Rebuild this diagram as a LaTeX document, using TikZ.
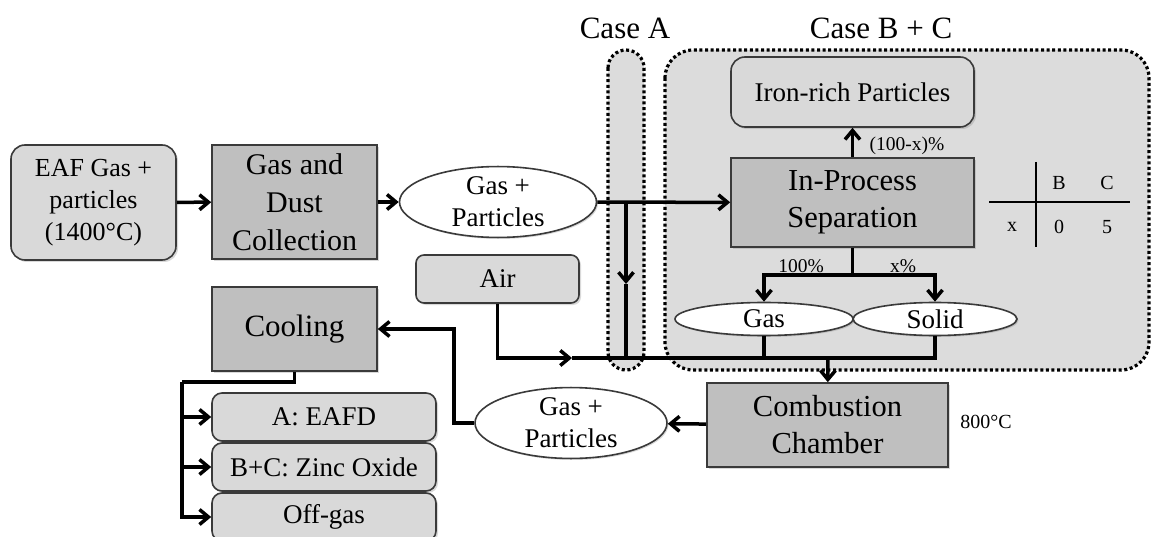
\documentclass[tikz,border=0pt]{standalone}
\usepackage{fontspec}
\setmainfont{Liberation Serif}
\usetikzlibrary{arrows.meta,shapes.geometric,shadows}
\definecolor{boxlight}{HTML}{D9D9D9}
\definecolor{boxdark}{HTML}{BFBFBF}
\definecolor{caseback}{HTML}{DCDCDC}
\definecolor{boxline}{HTML}{3A3A3A}
\begin{document}
\begin{tikzpicture}[x=1pt, y=-1pt, line width=3.5pt,
    lightbox/.style={draw=boxline, line width=1.6pt, fill=boxlight, rounded corners=14pt, align=center,
      drop shadow={shadow xshift=2pt, shadow yshift=-2pt, opacity=0.3}},
    darkbox/.style={draw=boxline, line width=1.6pt, fill=boxdark, align=center,
      drop shadow={shadow xshift=2pt, shadow yshift=-2pt, opacity=0.3}},
    flow/.style={ellipse, draw=boxline, line width=1.6pt, fill=white, inner sep=0pt, align=center,
      drop shadow={shadow xshift=1.5pt, shadow yshift=-1.5pt, opacity=0.3}},
    casebox/.style={fill=caseback, line width=3.2pt, dash pattern=on 3pt off 2.6pt},
    pipe/.style={line width=3.5pt},
    tip/.style={-{Straight Barb[length=9pt, width=15pt]}},
    big/.style={font=\fontsize{30.5}{37}\selectfont},
    mid/.style={font=\fontsize{27}{32}\selectfont},
    small/.style={font=\fontsize{19.5}{22}\selectfont}]
  \useasboundingbox (0,0) rectangle (1153,537);
  % case regions
  \draw[casebox, rounded corners=28pt] (665,50) rectangle (1149,370);
  \draw[casebox, rounded corners=18pt] (608,50) rectangle (644,370);
  \node[font=\fontsize{31}{36}\selectfont] (caseA) at (625,28) {Case A};
  \node[font=\fontsize{31}{36}\selectfont] (caseBC) at (881,28) {Case B + C};

  \node[lightbox, minimum width=165pt, minimum height=115pt, font=\fontsize{26}{32}\selectfont] (eaf) at (93.5,202.5) {EAF Gas +\\particles\\(1400°C)};
  \node[darkbox, minimum width=165pt, minimum height=114pt, font=\fontsize{30}{38}\selectfont] (gdc) at (294.5,202) {Gas and\\Dust\\Collection};
  \node[flow, minimum width=197pt, minimum height=65pt, font=\fontsize{27}{32}\selectfont] (gp1) at (498,202) {Gas +\\Particles};
  \node[lightbox, rounded corners=8pt, minimum width=163pt, minimum height=48pt, mid] (air) at (497.5,279) {Air};
  \node[darkbox, minimum width=165pt, minimum height=84pt, font=\fontsize{31}{36}\selectfont] (cool) at (294.5,329) {Cooling};
  \node[lightbox, rounded corners=10pt, minimum width=224pt, minimum height=48pt, mid] (eafd) at (324,417) {A: EAFD};
  \node[lightbox, rounded corners=10pt, minimum width=224pt, minimum height=48pt, mid] (zno) at (324,467) {B+C: Zinc Oxide};
  \node[lightbox, rounded corners=10pt, minimum width=224pt, minimum height=48pt, mid] (offgas) at (324,517) {Off-gas};
  \node[lightbox, minimum width=243pt, minimum height=70pt, mid] (iron) at (852.5,92) {Iron-rich Particles};
  \node[darkbox, minimum width=243pt, minimum height=89pt, big] (sep) at (852.5,202.5) {In-Process\\Separation};
  \node[flow, minimum width=178pt, minimum height=33pt, mid] (gas) at (764,319) {Gas};
  \node[flow, minimum width=164pt, minimum height=33pt, mid] (solid) at (935,319) {Solid};
  \node[darkbox, minimum width=241pt, minimum height=84pt, big] (comb) at (827.5,425) {Combustion\\Chamber};
  \node[flow, minimum width=192pt, minimum height=64pt, font=\fontsize{27}{32}\selectfont] (gp2) at (571,423) {Gas +\\Particles};
  \node[font=\fontsize{20}{24}\selectfont] (temp) at (986,422) {800°C};

  % x table
  \draw[line width=1.2pt] (1036,162) -- (1036,247);
  \draw[line width=1.2pt] (989,202) -- (1130,202);
  \node[font=\fontsize{20}{24}\selectfont] (tB) at (1059,183) {B};
  \node[font=\fontsize{20}{24}\selectfont] (tC) at (1107,183) {C};
  \node[font=\fontsize{20}{24}\selectfont] (tx) at (1012,227) {x};
  \node[font=\fontsize{20}{24}\selectfont] (t0) at (1059,227) {0};
  \node[font=\fontsize{20}{24}\selectfont] (t5) at (1107,227) {5};

  \coordinate (jA) at (626,202);
  \coordinate (jB) at (626,358);
  \coordinate (jmid) at (626,284);
  \coordinate (split) at (852.5,275);
  \coordinate (mix) at (828,358);
  \coordinate (airin) at (572,358);
  \coordinate (bend) at (454,423);
  \coordinate (split2) at (182,382);

  \draw[pipe, tip] (eaf) -- (gdc);
  \draw[pipe, tip] (gdc) -- (gp1);
  \draw[pipe, tip] (gp1) -- (sep);
  \draw[pipe, tip] (jA) -- (jmid);
  \draw[pipe] (jmid) -- (jB);
  \draw[pipe, tip] (sep) -- (iron);
  \node[small] (l100x) at (907,146) {(100-x)\%};
  \draw[pipe, tip] (sep) -- (split) -| (gas);
  \draw[pipe, tip] (split) -| (solid);
  \node[small] (l100) at (801,266) {100\%};
  \node[small] (lx) at (903,266) {x\%};
  \draw[pipe, tip] (air) |- (airin);
  \draw[pipe] (airin) -- (mix);
  \draw[pipe] (gas) |- (mix);
  \draw[pipe] (solid) |- (mix);
  \draw[pipe, tip] (mix) -- (comb);
  \draw[pipe, tip] (comb) -- (gp2);
  \draw[pipe, tip] (gp2) -- (bend) |- (cool);
  \draw[pipe] (cool) |- (split2);
  \draw[pipe, tip] (split2) |- (eafd);
  \draw[pipe, tip] (split2) |- (zno);
  \draw[pipe, tip] (split2) |- (offgas);
\end{tikzpicture}
\end{document}
